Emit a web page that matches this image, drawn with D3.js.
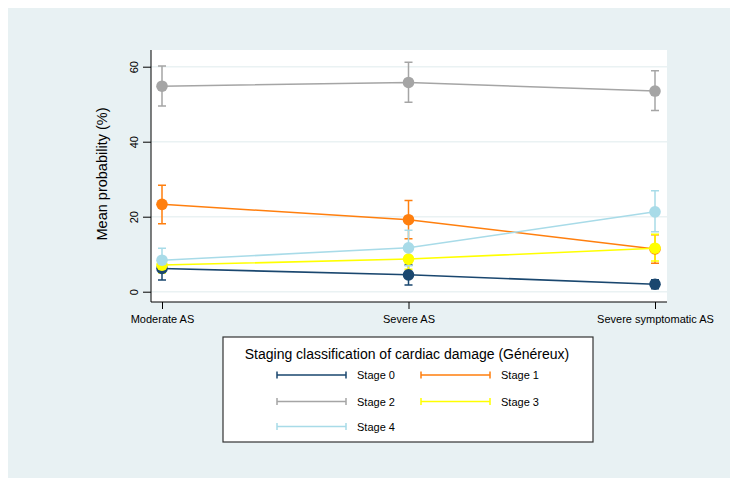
<!DOCTYPE html>
<html>
<head>
<meta charset="utf-8">
<script src="https://cdn.jsdelivr.net/npm/d3@7"></script>
<style>
  body { margin: 0; background: #fff; }
  svg { font-family: "Liberation Sans", Arial, Helvetica, sans-serif; }
</style>
</head>
<body>
<div id="chart"></div>
<script>
const categories = ["Moderate AS", "Severe AS", "Severe symptomatic AS"];
const stages = ["Stage 0", "Stage 1", "Stage 2", "Stage 3", "Stage 4"];
const colors = ["#1a476f", "#ff7f0e", "#a5a5a5", "#ffff00", "#a8dbe8"];

// mean probability (%) per stage, then lower / upper 95% CI
const means = [
  [6.2, 4.5, 2.0],
  [23.3, 19.2, 11.4],
  [54.8, 55.8, 53.5],
  [7.1, 8.7, 11.6],
  [8.4, 11.7, 21.3]
];
const lower = [
  [3.1, 1.8, 0.8],
  [18.1, 14.1, 7.6],
  [49.5, 50.5, 48.3],
  [5.0, 6.0, 8.2],
  [5.2, 6.9, 16.0]
];
const upper = [
  [9.2, 7.1, 3.2],
  [28.4, 24.3, 15.2],
  [60.2, 61.2, 58.9],
  [9.3, 11.4, 15.3],
  [11.6, 16.4, 26.9]
];
const yTicks = [0, 20, 40, 60];

const W = 736, H = 485;
const svg = d3.select("#chart").append("svg")
    .attr("width", W)
    .attr("height", H);

// graph region
svg.append("rect")
    .attr("x", 8).attr("y", 8)
    .attr("width", 722).attr("height", 470)
    .attr("fill", "#e8f1f3");

const plot = { left: 151, right: 667, top: 50, bottom: 302 };

svg.append("rect")
    .attr("x", plot.left).attr("y", plot.top)
    .attr("width", plot.right - plot.left)
    .attr("height", plot.bottom - plot.top)
    .attr("fill", "#fff");

const x = d3.scalePoint()
    .domain(categories)
    .range([162, 655]);

const y = d3.scaleLinear()
    .domain([0, 60])
    .range([291.7, 66.7]);

// gridlines
svg.append("g")
  .selectAll("line")
  .data(yTicks)
  .join("line")
    .attr("x1", plot.left).attr("x2", plot.right)
    .attr("y1", d => y(d)).attr("y2", d => y(d))
    .attr("stroke", "#eaf2f3")
    .attr("stroke-width", 1.5);

// y axis
const yAxis = d3.axisLeft(y).tickValues(yTicks).tickSize(8).tickPadding(5);
const gy = svg.append("g")
    .attr("transform", `translate(${plot.left},0)`)
    .call(yAxis);
gy.select(".domain").attr("d", `M0,${plot.top}V${plot.bottom}`).attr("stroke", "#000");
gy.selectAll(".tick line").attr("stroke", "#000");
gy.selectAll(".tick text")
    .attr("font-size", 11)
    .attr("fill", "#000")
    .attr("transform", function() {
      return "rotate(-90," + d3.select(this).attr("x") + ",0)";
    })
    .attr("text-anchor", "middle")
    .attr("dy", "0");

// x axis
const xAxis = d3.axisBottom(x).tickSize(7).tickPadding(6);
const gx = svg.append("g")
    .attr("transform", `translate(0,${plot.bottom})`)
    .call(xAxis);
gx.select(".domain").attr("d", `M${plot.left},0H${plot.right}`).attr("stroke", "#000");
gx.selectAll(".tick line").attr("stroke", "#000");
gx.selectAll(".tick text").attr("font-size", 11).attr("fill", "#000");

svg.append("text")
    .attr("transform", `translate(107,${(plot.top + plot.bottom) / 2 - 2}) rotate(-90)`)
    .attr("text-anchor", "middle")
    .attr("font-size", 14.5)
    .text("Mean probability (%)");

// error bars
const cap = 4;
stages.forEach((s, i) => {
  const g = svg.append("g").attr("stroke", colors[i]).attr("stroke-width", 1.5).attr("fill", "none");
  categories.forEach((c, j) => {
    const cx = x(c);
    g.append("path")
      .attr("d", `M${cx},${y(lower[i][j])}V${y(upper[i][j])}` +
                 `M${cx - cap},${y(lower[i][j])}H${cx + cap}` +
                 `M${cx - cap},${y(upper[i][j])}H${cx + cap}`);
  });
});

// lines and markers
const line = d3.line().x((d, j) => x(categories[j])).y(d => y(d));
stages.forEach((s, i) => {
  svg.append("path")
      .datum(means[i])
      .attr("d", line)
      .attr("fill", "none")
      .attr("stroke", colors[i])
      .attr("stroke-width", 1.6);
  svg.append("g")
    .selectAll("circle")
    .data(means[i])
    .join("circle")
      .attr("cx", (d, j) => x(categories[j]))
      .attr("cy", d => y(d))
      .attr("r", 5.8)
      .attr("fill", colors[i]);
});

// legend
const lg = svg.append("g");
lg.append("rect")
    .attr("x", 223).attr("y", 337)
    .attr("width", 370).attr("height", 105)
    .attr("fill", "#fff")
    .attr("stroke", "#333")
    .attr("stroke-width", 1.2);
lg.append("text")
    .attr("x", 407).attr("y", 359)
    .attr("text-anchor", "middle")
    .attr("font-size", 14)
    .text("Staging classification of cardiac damage (Généreux)");

const colX = [277, 421];
const rowY = [375, 401.5, 426.5];
stages.forEach((s, i) => {
  const x0 = colX[i % 2], yy = rowY[Math.floor(i / 2)];
  const k = lg.append("g").attr("stroke", colors[i]).attr("stroke-width", 1.5);
  k.append("path").attr("d", `M${x0},${yy}H${x0 + 69}M${x0},${yy - 3.5}V${yy + 3.5}M${x0 + 69},${yy - 3.5}V${yy + 3.5}`);
  lg.append("text")
      .attr("x", x0 + 80).attr("y", yy + 4)
      .attr("font-size", 11)
      .text(s);
});
</script>
</body>
</html>
